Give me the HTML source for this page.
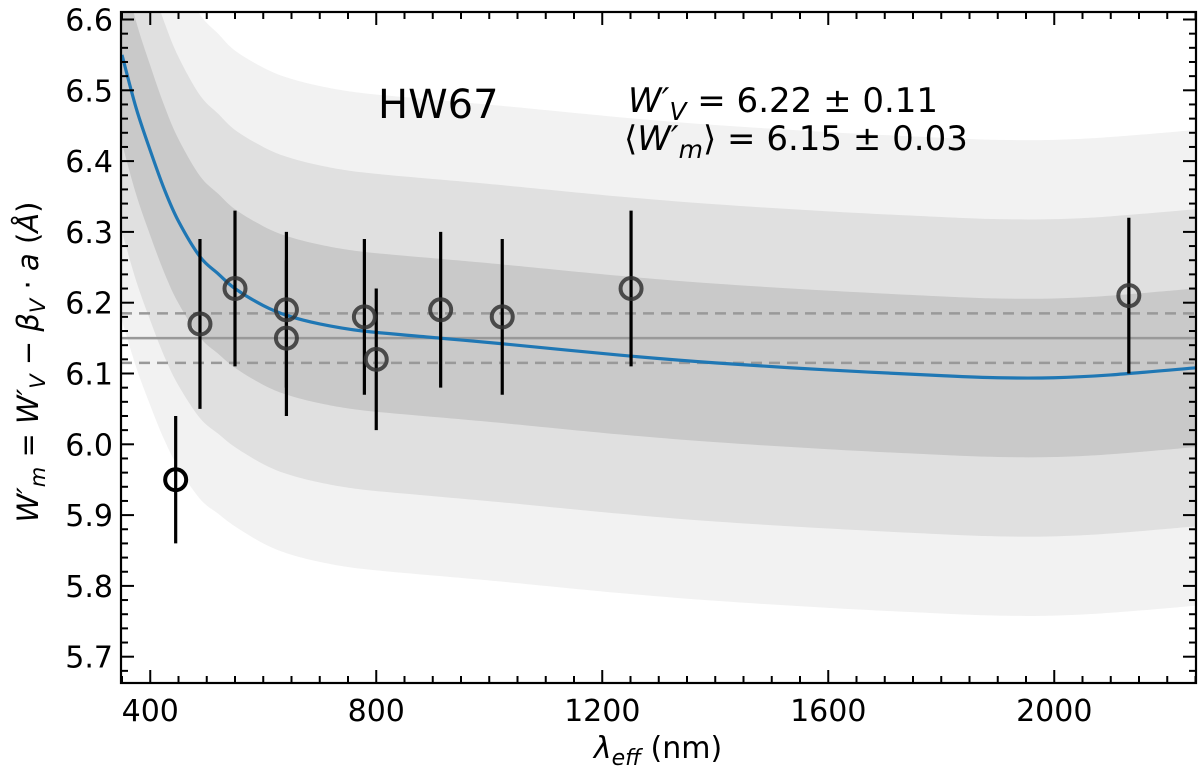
<!DOCTYPE html>
<html><head><meta charset="utf-8"><style>
html,body{margin:0;padding:0;background:#fff;}
svg{display:block;font-family:"DejaVu Sans","Liberation Sans",sans-serif;}
</style></head><body>
<svg id="chart" width="1200" height="772" viewBox="0 0 1200 772" xmlns="http://www.w3.org/2000/svg">
<defs><clipPath id="clip"><rect x="121" y="12" width="1075" height="671"/></clipPath></defs>
<g id="bands" clip-path="url(#clip)"></g>
<g id="refs" clip-path="url(#clip)"></g>
<g id="curve" clip-path="url(#clip)"></g>
<g id="points" clip-path="url(#clip)"></g>
<g id="axes"></g>
<text x="378" y="118" font-size="40">HW67</text>
<text x="628" y="112" font-size="34"><tspan font-style="italic">W′</tspan><tspan font-style="italic" font-size="25" dy="8">V</tspan><tspan dy="-8"> = 6.22 ± 0.11</tspan></text>
<text x="624" y="150" font-size="34">⟨<tspan font-style="italic">W′</tspan><tspan font-style="italic" font-size="25" dy="8">m</tspan><tspan dy="-8">⟩ = 6.15 ± 0.03</tspan></text>
<text x="658" y="758" font-size="30" text-anchor="middle"><tspan font-style="italic">λ</tspan><tspan font-style="italic" font-size="22" dy="7">eff</tspan><tspan dy="-7"> (nm)</tspan></text>
<text transform="translate(38,362) rotate(-90)" font-size="29" text-anchor="middle"><tspan font-style="italic">W′</tspan><tspan font-style="italic" font-size="21" dy="7">m</tspan><tspan dy="-7"> = </tspan><tspan font-style="italic">W′</tspan><tspan font-style="italic" font-size="21" dy="7">V</tspan><tspan dy="-7"> − </tspan><tspan font-style="italic">β</tspan><tspan font-style="italic" font-size="21" dy="7">V</tspan><tspan dy="-7"> · </tspan><tspan font-style="italic">a</tspan><tspan> (</tspan><tspan font-style="italic">Å</tspan><tspan>)</tspan></text>
</svg>
<script>
const curveLambda = [350,375,400,425,450,488,520,550,600,642,700,776,912,1023,1230,1400,1600,1800,1900,2000,2100,2250];
const curveValues = [6.55,6.475,6.415,6.36,6.315,6.265,6.241,6.22,6.196,6.182,6.17,6.16,6.15,6.142,6.126,6.115,6.105,6.097,6.094,6.094,6.098,6.108];
const bandSigma = [0.125,0.122,0.12,0.118,0.116,0.114,0.113,0.112,0.112,0.112,0.112,0.112,0.112,0.112,0.112,0.112,0.112,0.112,0.112,0.112,0.112,0.112];
const pointLambda = [445,488,550,641,641,779,800,914,1023,1251,2132];
const pointValues = [5.95,6.17,6.22,6.19,6.15,6.18,6.12,6.19,6.18,6.22,6.21];
const pointErrors = [0.09,0.12,0.11,0.11,0.11,0.11,0.10,0.11,0.11,0.11,0.11];
const meanValue = 6.15;
const meanError = 0.035;
const xTicks = [400,800,1200,1600,2000];
const yTicks = [5.7,5.8,5.9,6.0,6.1,6.2,6.3,6.4,6.5,6.6];

const L=121,R=1196,T=12,B=683;
const xs = v => 122 + (v-350)*0.5650;
const ys = v => 19.5 + (6.6-v)*708;
const NS="http://www.w3.org/2000/svg";
function mk(tag,attrs,parent){const e=document.createElementNS(NS,tag);for(const k in attrs)e.setAttribute(k,attrs[k]);parent.appendChild(e);return e;}
function smooth(pts){
  let d='M'+pts[0][0]+','+pts[0][1];
  for(let i=0;i<pts.length-1;i++){
    const p0=pts[Math.max(0,i-1)],p1=pts[i],p2=pts[i+1],p3=pts[Math.min(pts.length-1,i+2)];
    d+=' C'+(p1[0]+(p2[0]-p0[0])/6)+','+(p1[1]+(p2[1]-p0[1])/6)+' '+(p2[0]-(p3[0]-p1[0])/6)+','+(p2[1]-(p3[1]-p1[1])/6)+' '+p2[0]+','+p2[1];
  }
  return d;
}

// bands
const bandsG=document.getElementById('bands');
const bandColors=['#f2f2f2','#e0e0e0','#c9c9c9'];
const bandNames=['band-3-sigma','band-2-sigma','band-1-sigma'];
[3,2,1].forEach((k,i)=>{
  const up=curveLambda.map((l,j)=>[xs(l),ys(curveValues[j]+k*bandSigma[j])]);
  const lo=curveLambda.map((l,j)=>[xs(l),ys(curveValues[j]-k*bandSigma[j])]).reverse();
  const d=smooth(up)+' L'+smooth(lo).slice(1)+' Z';
  const p=mk('path',{d:d,fill:bandColors[i]},bandsG);
  
  
});

// reference lines
const refsG=document.getElementById('refs');
const ml=mk('line',{x1:L,x2:R,y1:ys(meanValue),y2:ys(meanValue),stroke:'#999',"stroke-width":2.5},refsG);


[meanValue+meanError,meanValue-meanError].forEach(v=>{
  const d=mk('line',{x1:L,x2:R,y1:ys(v),y2:ys(v),stroke:'#999',"stroke-width":2.5,"stroke-dasharray":"11,7"},refsG);
  
  
});

// curve
const pts=curveLambda.map((l,j)=>[xs(l),ys(curveValues[j])]);
const cp=mk('path',{d:smooth(pts),fill:'none',stroke:'#1f77b4',"stroke-width":3.2},document.getElementById('curve'));



// points
const pg=document.getElementById('points');
pointLambda.forEach((l,i)=>{
  const x=xs(l);
  const eb=mk('line',{x1:x,x2:x,y1:ys(pointValues[i]+pointErrors[i]),y2:ys(pointValues[i]-pointErrors[i]),stroke:'#000',"stroke-width":3.2},pg);
  
  
});
pointLambda.forEach((l,i)=>{
  const c=mk('circle',{cx:xs(l),cy:ys(pointValues[i]),r:10.5,fill:'none',stroke:i===0?'#000':'#333',"stroke-opacity":i===0?1:0.85,"stroke-width":4},pg);
  
  
});

// axes
const ag=document.getElementById('axes');
const fr=mk('rect',{x:L,y:T,width:R-L,height:B-T,fill:'none',stroke:'#000',"stroke-width":2.2},ag);


for(let v=350;v<=2250;v+=50){
  const x=xs(v);const major=v%400===0;const len=major?13:7;
  mk('line',{x1:x,x2:x,y1:B,y2:B-len,stroke:'#000',"stroke-width":2},ag);
  mk('line',{x1:x,x2:x,y1:T,y2:T+len,stroke:'#000',"stroke-width":2},ag);
}
xTicks.forEach(v=>{
  const t=mk('text',{x:xs(v),y:B+38,"font-size":30,"text-anchor":"middle"},ag);t.textContent=v;
  
  
});
for(let k=566;k<=661;k+=2){
  const v=k/100;const y=ys(v);if(y<T||y>B)continue;const major=k%10===0;const len=major?13:7;
  mk('line',{x1:L,x2:L+len,y1:y,y2:y,stroke:'#000',"stroke-width":2},ag);
  mk('line',{x1:R,x2:R-len,y1:y,y2:y,stroke:'#000',"stroke-width":2},ag);
}
yTicks.forEach(v=>{
  const t=mk('text',{x:L-8,y:ys(v)+11,"font-size":30,"text-anchor":"end"},ag);t.textContent=v.toFixed(1);
  
  
});
</script>
</body></html>
